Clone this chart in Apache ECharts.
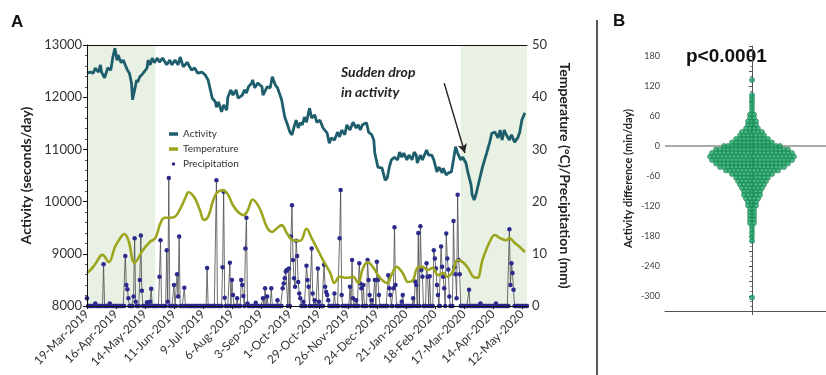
<!DOCTYPE html>
<html>
<head>
<meta charset="utf-8">
<script src="https://cdn.jsdelivr.net/npm/echarts@6/dist/echarts.min.js"></script>
<style>
  html, body { margin: 0; padding: 0; background: #fff; }
  #chart { width: 826px; height: 375px; }
</style>
</head>
<body>
<div id="chart"></div>
<script>
// Panel A - days counted from 19-Mar-2019
const actDays = [0, 3, 6, 8, 11, 13, 14, 17, 20, 23, 25, 27, 29, 30, 33, 35, 39, 41, 43, 44, 46, 48, 49, 51, 53, 55, 58, 59, 61, 63, 65, 68, 70, 73, 77, 80, 82, 85, 88, 90, 93, 97, 98, 101, 104, 107, 111, 114, 117, 121, 124, 125, 127, 130, 132, 135, 136, 139, 141, 144, 146, 150, 152, 154, 156, 159, 160, 162, 165, 169, 170, 174, 177, 179, 182, 184, 188, 191, 193, 196, 198, 200, 202, 204, 206, 208, 210, 212, 215, 217, 220, 222, 225, 228, 232, 234, 236, 239, 242, 244, 246, 249, 251, 254, 257, 260, 262, 264, 266, 270, 272, 275, 277, 278, 281, 285, 288, 290, 292, 294, 297, 300, 302, 304, 306, 309, 311, 314, 316, 318, 319, 322, 324, 328, 330, 333, 335, 338, 340, 343, 344, 347, 349, 352, 354, 356, 358, 361, 363, 366, 368, 371, 372, 374, 376, 379, 382, 386, 389, 391, 394, 397, 399, 401, 403, 405, 408, 410, 413, 416, 418, 420, 423]
const actVals = [12460, 12480, 12460, 12560, 12480, 12620, 12480, 12370, 12560, 12520, 12770, 12940, 12710, 12810, 12660, 12710, 12520, 12460, 12270, 11950, 12140, 12330, 12290, 12390, 12430, 12480, 12560, 12710, 12620, 12750, 12660, 12750, 12670, 12750, 12620, 12710, 12620, 12710, 12620, 12770, 12580, 12670, 12620, 12520, 12560, 12460, 12480, 12430, 12330, 11980, 11910, 11810, 11910, 11720, 11850, 11750, 12000, 12140, 12040, 12140, 11980, 12040, 12140, 12080, 12200, 12270, 12330, 12180, 12270, 12200, 12040, 12200, 12180, 12390, 12230, 12180, 11950, 11620, 11510, 11330, 11280, 11430, 11560, 11410, 11510, 11470, 11620, 11520, 11790, 11600, 11660, 11520, 11560, 11410, 11310, 11120, 11220, 11180, 11330, 11240, 11370, 11280, 11470, 11370, 11520, 11410, 11470, 11370, 11470, 11510, 11330, 11280, 11180, 10930, 10660, 10640, 10410, 10450, 10660, 10800, 10850, 10800, 10950, 10850, 10930, 10800, 10890, 10800, 10950, 10890, 10740, 10890, 10800, 10990, 10890, 10890, 10800, 10570, 10660, 10550, 10640, 10510, 10550, 10570, 10800, 11050, 10930, 10800, 10850, 10740, 10550, 10320, 10130, 10030, 10160, 10410, 10660, 10930, 11140, 11310, 11330, 11220, 11370, 11180, 11370, 11280, 11180, 11280, 11140, 11220, 11330, 11560, 11700]

const tempDays = [0, 6, 13, 15, 21, 27, 32, 36, 40, 46, 54, 61, 66, 71, 75, 80, 85, 90, 95, 98, 104, 109, 113, 117, 122, 126, 131, 136, 141, 146, 151, 155, 160, 167, 174, 179, 183, 188, 193, 199, 206, 212, 217, 222, 228, 235, 239, 244, 251, 257, 262, 266, 271, 276, 283, 290, 294, 299, 305, 310, 315, 319, 324, 329, 334, 339, 344, 348, 353, 358, 363, 368, 373, 377, 382, 389, 394, 399, 405, 408, 413, 418, 423]
const tempVals = [6.3, 7.5, 9.6, 9.8, 8.4, 11.3, 13.0, 13.8, 12.6, 8.3, 10.7, 12.3, 13.0, 15.9, 16.9, 16.9, 17.1, 18.6, 20.7, 21.8, 20.7, 18.4, 16.5, 17.1, 20.3, 21.8, 22.2, 21.4, 19.3, 18.0, 17.4, 18.2, 20.4, 18.6, 15.0, 14.2, 14.8, 15.5, 14.0, 12.6, 12.5, 14.8, 13.0, 11.1, 8.8, 6.3, 4.4, 5.6, 5.4, 5.6, 4.4, 6.9, 8.4, 7.5, 5.4, 4.4, 5.9, 7.5, 6.3, 4.6, 5.0, 7.3, 7.5, 6.9, 7.3, 5.9, 6.3, 5.6, 6.5, 8.8, 8.4, 7.3, 5.6, 5.4, 8.8, 12.3, 13.6, 13.0, 12.6, 13.0, 12.1, 11.3, 10.3]

// rainy days only, every other day is 0 mm
const rainDays = [0, 8, 16, 22, 37, 38, 39, 40, 45, 46, 47, 51, 52, 53, 58, 61, 62, 70, 71, 77, 78, 79, 84, 87, 88, 89, 94, 116, 125, 131, 132, 133, 138, 140, 141, 145, 149, 150, 151, 153, 154, 155, 163, 170, 172, 174, 178, 184, 189, 190, 191, 192, 193, 195, 197, 198, 199, 200, 201, 202, 203, 204, 205, 206, 209, 212, 213, 214, 217, 218, 220, 223, 224, 229, 230, 231, 232, 233, 239, 244, 245, 246, 254, 256, 257, 260, 263, 264, 265, 267, 271, 272, 273, 275, 278, 280, 281, 282, 291, 292, 293, 296, 297, 298, 304, 305, 315, 317, 318, 320, 322, 323, 324, 328, 329, 331, 335, 336, 337, 338, 339, 342, 343, 344, 345, 347, 348, 349, 350, 354, 355, 356, 357, 358, 359, 360, 369, 380, 395, 408, 409, 410, 411, 412]
const rainMm = [1.5, 0.5, 8.0, 0.5, 9.6, 4.0, 3.2, 1.5, 1.8, 13.0, 0.8, 5.0, 13.5, 2.9, 0.7, 0.8, 3.3, 5.6, 12.6, 10.7, 0.8, 24.5, 4.0, 6.1, 1.8, 13.3, 3.5, 7.3, 24.1, 7.4, 21.9, 1.6, 8.3, 5.0, 2.1, 1.5, 5.0, 4.0, 1.9, 11.0, 16.9, 0.5, 0.6, 1.5, 3.4, 1.8, 3.4, 1.1, 3.4, 4.3, 5.3, 6.6, 6.9, 7.2, 13.3, 19.3, 8.8, 5.3, 3.7, 12.5, 9.6, 4.6, 2.4, 1.5, 0.8, 7.7, 5.0, 3.7, 11.0, 2.4, 1.1, 7.2, 0.8, 7.9, 3.7, 2.7, 2.1, 1.1, 2.4, 13.0, 22.2, 2.1, 3.7, 8.8, 1.5, 1.1, 8.2, 4.3, 3.4, 4.0, 8.8, 5.0, 2.1, 1.1, 5.0, 8.5, 5.0, 2.1, 5.9, 3.4, 2.1, 3.4, 15.1, 4.0, 0.8, 2.1, 1.5, 4.7, 4.0, 14.0, 15.3, 6.9, 5.6, 8.2, 5.6, 5.7, 10.7, 9.1, 7.2, 4.0, 2.1, 11.4, 7.5, 5.6, 3.4, 13.9, 9.1, 7.0, 1.8, 16.3, 7.4, 6.1, 1.5, 21.3, 8.8, 6.1, 3.1, 0.5, 0.5, 14.7, 4.0, 8.2, 6.3, 3.1]

const lastDay = 425
const referencePeriod = [0, 66]
const lockdownPeriod = [361, 425]

// Panel B - activity difference, dots per row of the swarm
const swarmValues = [132, 102, 96, 90, 84, 77, 70, 63, 56, 49, 42, 35, 28, 21, 14, 7, 0, -7, -14, -21, -28, -35, -42, -49, -56, -63, -70, -77, -84, -91, -98, -105, -112, -119, -126, -133, -140, -147, -154, -161, -168, -175, -182, -190, -303]
const swarmCounts = [1, 1, 1, 1, 1, 1, 1, 2, 2, 3, 3, 4, 6, 7, 9, 11, 15, 19, 21, 22, 21, 19, 17, 14, 11, 9, 8, 7, 6, 5, 5, 4, 3, 3, 2, 2, 2, 2, 2, 1, 1, 1, 1, 1, 1]
const swarmTicks = [180, 120, 60, 0, -60, -120, -180, -240, -300]

const MONTHS = ['Jan', 'Feb', 'Mar', 'Apr', 'May', 'Jun', 'Jul', 'Aug', 'Sep', 'Oct', 'Nov', 'Dec']
const START = Date.UTC(2019, 2, 19)
function dayLabel(d) {
  const dt = new Date(START + d * 86400000)
  return dt.getUTCDate() + '-' + MONTHS[dt.getUTCMonth()] + '-' + dt.getUTCFullYear()
}

const activity = actDays.map((d, i) => [d, actVals[i]])
const temperature = tempDays.map((d, i) => [d, tempVals[i]])
const precipitation = []
for (let d = 0; d <= lastDay; d++) precipitation.push([d, 0])
rainDays.forEach((d, i) => { precipitation[d][1] = rainMm[i] })

// simple beeswarm layout: each row centred, 4px between dots
const DOT_STEP = 4
const swarm = []
swarmValues.forEach((v, i) => {
  const n = swarmCounts[i]
  for (let k = 0; k < n; k++) swarm.push([(k - (n - 1) / 2) * DOT_STEP, v])
})

const FONT = 'Lato'
const shade = '#e8f1e3'

const chart = echarts.init(document.getElementById('chart'))

const option = {
  animation: false,
  textStyle: { fontFamily: FONT },
  grid: [
    { left: 87, top: 45, width: 440, height: 261 },
    { left: 665, top: 46, width: 161, height: 265 },
  ],
  legend: {
    data: [
      { name: 'Activity', icon: 'rect' },
      { name: 'Temperature', icon: 'rect' },
      { name: 'Precipitation', icon: 'circle' },
    ],
    orient: 'vertical',
    left: 164,
    top: 124,
    itemWidth: 9,
    itemHeight: 3.5,
    itemGap: 5,
    textStyle: { fontSize: 10, color: '#333', fontFamily: FONT },
  },
  xAxis: [
    {
      type: 'value',
      gridIndex: 0,
      min: 0,
      max: lastDay,
      interval: 28,
      z: 10,
      axisLine: { lineStyle: { color: '#111', width: 1 } },
      axisTick: { show: true, length: 3, lineStyle: { color: '#111' } },
      splitLine: { show: false },
      axisLabel: {
        rotate: 45,
        fontSize: 12,
        color: '#333',
        margin: 6,
        formatter: (v) => dayLabel(v),
      },
    },
    {
      type: 'value',
      gridIndex: 0,
      position: 'top',
      min: 0,
      max: lastDay,
      z: 10,
      axisLine: { show: true, onZero: false, lineStyle: { color: '#111', width: 1 } },
      axisTick: { show: false },
      axisLabel: { show: false },
      splitLine: { show: false },
    },
    {
      type: 'value',
      gridIndex: 1,
      min: -87,
      max: 74,
      axisLine: { show: true, onZero: false, lineStyle: { color: '#555' } },
      axisTick: { show: true, customValues: [0], length: 4, lineStyle: { color: '#555' } },
      axisLabel: { show: false },
      splitLine: { show: false },
    },
  ],
  yAxis: [
    {
      type: 'value',
      gridIndex: 0,
      min: 8000,
      max: 13000,
      interval: 1000,
      z: 10,
      name: 'Activity (seconds/day)',
      nameLocation: 'middle',
      nameGap: 45,
      nameTextStyle: { fontSize: 14, fontWeight: 'bold', color: '#222', fontFamily: FONT },
      axisLine: { show: true, lineStyle: { color: '#111' } },
      axisTick: { show: true, length: 4, lineStyle: { color: '#111' } },
      minorTick: { show: true, splitNumber: 5, length: 2, lineStyle: { color: '#555' } },
      splitLine: { show: false },
      axisLabel: { fontSize: 13, color: '#333', margin: 5, formatter: (v) => String(v) },
    },
    {
      type: 'value',
      gridIndex: 0,
      position: 'right',
      min: 0,
      max: 50,
      interval: 10,
      name: 'Temperature (°C)/Precipitation (mm)',
      nameLocation: 'middle',
      nameRotate: -90,
      nameGap: 31,
      nameTextStyle: { fontSize: 14, fontWeight: 'bold', color: '#222', fontFamily: FONT },
      axisLine: { show: true, lineStyle: { color: '#c8d0c4' } },
      axisTick: { show: true, length: 4, lineStyle: { color: '#555' } },
      minorTick: { show: true, splitNumber: 2, length: 3, lineStyle: { color: '#777' } },
      splitLine: { show: false },
      axisLabel: { fontSize: 13, color: '#333', margin: 5 },
    },
    {
      type: 'value',
      gridIndex: 1,
      min: -330,
      max: 200,
      interval: 30,
      name: 'Activity difference (min/day)',
      nameLocation: 'middle',
      nameGap: 31,
      nameTextStyle: { fontSize: 11, fontWeight: 'bold', color: '#222', fontFamily: FONT },
      axisLine: { show: true, lineStyle: { color: '#555' } },
      axisTick: { show: true, length: 3, lineStyle: { color: '#555' } },
      minorTick: { show: true, splitNumber: 3, length: 2, lineStyle: { color: '#888' } },
      splitLine: { show: false },
      axisLabel: { customValues: swarmTicks, fontSize: 9, color: '#444', margin: 5 },
    },
  ],
  series: [
    {
      name: 'Precipitation',
      type: 'line',
      xAxisIndex: 0,
      yAxisIndex: 1,
      data: precipitation,
      symbol: 'circle',
      symbolSize: 4.5,
      showAllSymbol: true,
      lineStyle: { color: '#4a4a4a', width: 0.8 },
      itemStyle: { color: '#2c2a8c' },
      markArea: {
        silent: true,
        itemStyle: { color: shade },
        data: [
          [{ xAxis: referencePeriod[0] }, { xAxis: referencePeriod[1] }],
          [{ xAxis: lockdownPeriod[0] }, { xAxis: lockdownPeriod[1] }],
        ],
      },
      z: 2,
    },
    {
      name: 'Temperature',
      type: 'line',
      xAxisIndex: 0,
      yAxisIndex: 1,
      data: temperature,
      smooth: 0.4,
      symbol: 'none',
      lineStyle: { color: '#9da51f', width: 2.6 },
      itemStyle: { color: '#9da51f' },
      z: 3,
    },
    {
      name: 'Activity',
      type: 'line',
      xAxisIndex: 0,
      yAxisIndex: 0,
      data: activity,
      symbol: 'none',
      lineStyle: { color: '#1e5e6c', width: 2.8 },
      itemStyle: { color: '#1e5e6c' },
      markLine: {
        silent: true,
        symbol: ['none', 'arrow'],
        symbolSize: [7, 9],
        lineStyle: { color: '#222', width: 1.4, type: 'solid' },
        label: { show: false },
        data: [[{ coord: [345, 12270] }, { coord: [365, 10930] }]],
      },
      z: 4,
    },
    {
      name: 'zero',
      type: 'line',
      xAxisIndex: 2,
      yAxisIndex: 2,
      data: [[-87, 0], [74, 0]],
      symbol: 'none',
      silent: true,
      lineStyle: { color: '#555', width: 1 },
      z: 1,
    },
    {
      name: 'Difference',
      type: 'scatter',
      xAxisIndex: 2,
      yAxisIndex: 2,
      data: swarm,
      symbolSize: 5,
      itemStyle: { color: '#22a56a', borderColor: '#137c49', borderWidth: 0.7 },
      z: 3,
    },
  ],
  graphic: [
    { type: 'text', left: 11, top: 14, style: { text: 'A', font: 'bold 17px Liberation Sans', fill: '#111' } },
    { type: 'text', left: 613, top: 13, style: { text: 'B', font: 'bold 17px Liberation Sans', fill: '#111' } },
    { type: 'line', shape: { x1: 597, y1: 20, x2: 597, y2: 375 }, style: { stroke: '#222', lineWidth: 1.5 } },
    { type: 'text', left: 92, top: 101, style: { text: 'Reference', font: 'bold 12px Lato', fill: '#222' } },
    { type: 'text', left: 462, top: 101, style: { text: 'Lockdown', font: 'bold 12px Lato', fill: '#333' } },
    { type: 'text', left: 341, top: 65, style: { text: 'Sudden drop', font: 'italic bold 14px Lato', fill: '#222' } },
    { type: 'text', left: 341, top: 85, style: { text: 'in activity', font: 'italic bold 14px Lato', fill: '#222' } },
    { type: 'text', left: 686, top: 47, style: { text: 'p<0.0001', font: 'bold 19px Liberation Sans', fill: '#111' } },
  ],
}

chart.setOption(option)
</script>
</body>
</html>
